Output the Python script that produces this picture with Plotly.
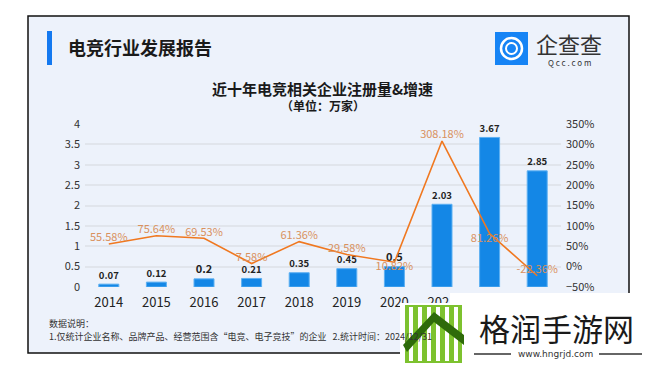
import plotly.graph_objects as go

years = ["2014", "2015", "2016", "2017", "2018", "2019", "2020", "2021", "2022", "2023"]
counts = [0.07, 0.12, 0.2, 0.21, 0.35, 0.45, 0.5, 2.03, 3.67, 2.85]
growth = [55.58, 75.64, 69.53, 7.58, 61.36, 29.58, 10.82, 308.18, 81.26, -22.36]
growth_pos = ["top center", "top center", "top center", "top center", "top center",
              "top center", "bottom center", "top center", "bottom center", "top center"]

FONT = "Noto Sans CJK SC"

fig = go.Figure()
fig.add_trace(go.Bar(
    x=years, y=counts, yaxis="y",
    marker=dict(color="#1487E6", line=dict(color="#5DB0F2", width=1)),
    text=[f"<b>{v:g}</b>" for v in counts], textposition="outside", cliponaxis=False,
    textfont=dict(family=FONT, size=11, color="#222222"),
    showlegend=False, hoverinfo="skip",
))
fig.add_trace(go.Scatter(
    x=years, y=growth, yaxis="y2", mode="lines+text",
    line=dict(color="#F07820", width=1.6),
    text=[f"{v:.2f}%" for v in growth], textposition=growth_pos, cliponaxis=False,
    textfont=dict(family=FONT, size=11, color="#D9915E"),
    showlegend=False, hoverinfo="skip",
))

fig.update_layout(
    width=650, height=366,
    margin=dict(l=85, r=89, t=124, b=79),
    paper_bgcolor="white", plot_bgcolor="rgba(0,0,0,0)",
    bargap=0.58,
    font=dict(family=FONT, color="#333333"),
    xaxis=dict(tickfont=dict(size=13, color="#222222"), showgrid=False, showline=False,
               ticks="", fixedrange=True, ticklabelstandoff=6),
    yaxis=dict(range=[0, 4], dtick=0.5, showgrid=True, gridcolor="#E1E5EC", gridwidth=1.5,
               zeroline=False, tickfont=dict(size=11, color="#333333"), ticks="",
               ticklabelstandoff=4),
    yaxis2=dict(range=[-50, 350], dtick=50, overlaying="y", side="right", showgrid=False,
                zeroline=False, ticksuffix="%", tickfont=dict(size=11, color="#333333"),
                ticks="", ticklabelstandoff=4),
)

def px(x):
    return (x - 85) / (650 - 85 - 89)

def py(y):
    return (366 - 79 - y) / (366 - 124 - 79)

# frame and background
fig.add_shape(type="rect", xref="paper", yref="paper", x0=px(28), x1=px(629), y0=py(353), y1=py(16),
              layer="below", line=dict(color="#111111", width=1.5), fillcolor="#EDF2FB")
fig.add_shape(type="rect", xref="paper", yref="paper", x0=px(47), x1=px(52), y0=py(65), y1=py(31),
              layer="below", line=dict(width=0), fillcolor="#1479F0")
# logo icon
fig.add_shape(type="rect", xref="paper", yref="paper", x0=px(495), x1=px(528), y0=py(65), y1=py(32),
              layer="above", line=dict(width=0), fillcolor="#1684F5")
fig.add_shape(type="circle", xref="paper", yref="paper", x0=px(501), x1=px(522), y0=py(59), y1=py(38),
              layer="above", line=dict(color="white", width=2.5), fillcolor="rgba(0,0,0,0)")
fig.add_shape(type="circle", xref="paper", yref="paper", x0=px(506), x1=px(517), y0=py(54), y1=py(43),
              layer="above", line=dict(color="white", width=2), fillcolor="rgba(0,0,0,0)")

# watermark
fig.add_shape(type="rect", xref="paper", yref="paper", x0=px(450), x1=px(650), y0=py(366), y1=py(293),
              layer="above", line=dict(width=0), fillcolor="white")
fig.add_shape(type="rect", xref="paper", yref="paper", x0=px(400), x1=px(650), y0=py(366), y1=py(303),
              layer="above", line=dict(width=0), fillcolor="white")
fig.add_shape(type="rect", xref="paper", yref="paper", x0=px(405), x1=px(462), y0=py(363), y1=py(305),
              layer="above", line=dict(width=0), fillcolor="#7DC22E")
for i in range(6):
    xs = 409 + i * 9
    fig.add_shape(type="rect", xref="paper", yref="paper", x0=px(xs), x1=px(xs + 4), y0=py(361), y1=py(307),
                  layer="above", line=dict(width=0), fillcolor="#FFFFFF")
fig.add_shape(type="path", xref="paper", yref="paper", layer="above",
              path=f"M {px(403)} {py(345)} L {px(434)} {py(312)} L {px(464)} {py(335)} L {px(464)} {py(345)} "
                   f"L {px(434)} {py(322)} L {px(407)} {py(352)} Z",
              line=dict(width=0), fillcolor="#2E6B0A")
fig.add_shape(type="line", xref="paper", yref="paper", x0=px(474), x1=px(511), y0=py(354), y1=py(354),
              layer="above", line=dict(color="#333333", width=1.5))
fig.add_shape(type="line", xref="paper", yref="paper", x0=px(599), x1=px(642), y0=py(354), y1=py(354),
              layer="above", line=dict(color="#333333", width=1.5))

ann = [
    dict(text="<b>电竞行业发展报告</b>", x=px(66), y=py(47), xanchor="left", yanchor="middle",
         font=dict(size=18, color="#1A1A1A")),
    dict(text="企查查", x=px(534), y=py(43), xanchor="left", yanchor="middle",
         font=dict(size=22, color="#333333")),
    dict(text="Q c c . c o m", x=px(569), y=py(63), xanchor="center", yanchor="middle",
         font=dict(size=8, color="#333333")),
    dict(text="<b>近十年电竞相关企业注册量&增速</b>", x=px(322), y=py(88), xanchor="center", yanchor="middle",
         font=dict(size=15, color="#1A1A1A")),
    dict(text="<b>（单位：万家）</b>", x=px(323), y=py(105), xanchor="center", yanchor="middle",
         font=dict(size=12, color="#1A1A1A")),
    dict(text="数据说明：", x=px(47), y=py(323), xanchor="left", yanchor="middle",
         font=dict(size=9, color="#333333")),
    dict(text="1.仅统计企业名称、品牌产品、经营范围含“电竞、电子竞技”的企业   2.统计时间：2024/12/31",
         x=px(47), y=py(336), xanchor="left", yanchor="middle",
         font=dict(size=9, color="#333333")),
]
for a in ann:
    a.update(xref="paper", yref="paper", showarrow=False, font=dict(family=FONT, **a["font"]))
    fig.add_annotation(**a)

fig.add_annotation(text="格润手游网", x=px(556), y=py(327), xref="paper", yref="paper", showarrow=False,
                   xanchor="center", yanchor="middle", font=dict(family=FONT, size=31, color="#1A1A1A"))
fig.add_annotation(text="www.hngrjd.com", x=px(555), y=py(354), xref="paper", yref="paper", showarrow=False,
                   xanchor="center", yanchor="middle", bgcolor="white",
                   font=dict(family="DejaVu Sans", size=9, color="#333333"))

fig.write_html("out.html", config={"displayModeBar": False},
               post_script="document.body.style.margin='0';")
